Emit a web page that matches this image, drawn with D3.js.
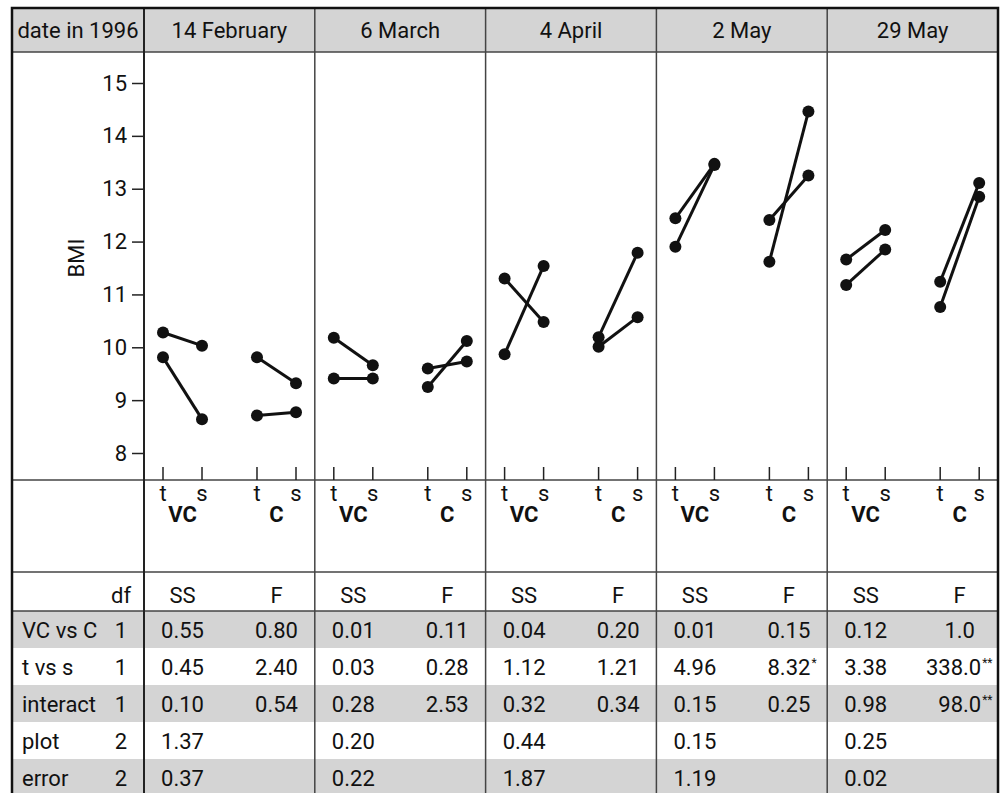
<!DOCTYPE html>
<html>
<head>
<meta charset="utf-8">
<script src="https://cdn.jsdelivr.net/npm/d3@7"></script>
<style>
  body { margin: 0; background: #fff; }
  svg text { font-family: Roboto, "Liberation Sans", sans-serif; fill: #111; }
</style>
</head>
<body>
<svg></svg>
<script>
var dates = ["14 February", "6 March", "4 April", "2 May", "29 May"];
var groups = ["VC", "C"];
var times = ["t", "s"];

// BMI pairs per date: [group, t value, s value]
var bmi = [
  [["VC", 10.28, 10.03], ["VC", 9.81, 8.64], ["C", 9.81, 9.32], ["C", 8.71, 8.77]],
  [["VC", 10.18, 9.66], ["VC", 9.41, 9.41], ["C", 9.25, 10.12], ["C", 9.60, 9.73]],
  [["VC", 11.30, 10.48], ["VC", 9.87, 11.54], ["C", 10.19, 11.79], ["C", 10.01, 10.57]],
  [["VC", 12.44, 13.47], ["VC", 11.90, 13.45], ["C", 12.41, 13.25], ["C", 11.62, 14.46]],
  [["VC", 11.66, 12.22], ["VC", 11.18, 11.85], ["C", 11.24, 13.11], ["C", 10.76, 12.85]]
];

var yTicks = [8, 9, 10, 11, 12, 13, 14, 15];

var sources = ["VC vs C", "t vs s", "interact", "plot", "error"];
var df = [1, 1, 1, 2, 2];
var ss = [
  ["0.55", "0.45", "0.10", "1.37", "0.37"],
  ["0.01", "0.03", "0.28", "0.20", "0.22"],
  ["0.04", "1.12", "0.32", "0.44", "1.87"],
  ["0.01", "4.96", "0.15", "0.15", "1.19"],
  ["0.12", "3.38", "0.98", "0.25", "0.02"]
];
var fval = [
  ["0.80", "2.40", "0.54", "", ""],
  ["0.11", "0.28", "2.53", "", ""],
  ["0.20", "1.21", "0.34", "", ""],
  ["0.15", "8.32*", "0.25", "", ""],
  ["1.0", "338.0**", "98.0**", "", ""]
];

var svg = d3.select('svg')
   .attr('width', 1005)
   .attr('height', 793);

var boxL = 12, boxR = 998, boxT = 8, boxB = 793;
var firstCol = 144;
var headH = 44;
var plotBottom = 480;
var catBottom = 572;
var tableHead = 611;
var rowH = 37;
var fs = 22;

var panel = d3.scaleBand()
   .domain(dates)
   .range([firstCol, boxR]);

var xGroup = d3.scaleBand()
   .domain(groups)
   .range([19, 152])
   .paddingInner(0.585);

var xTime = d3.scalePoint()
   .domain(times)
   .range([0, xGroup.bandwidth()]);

var y = d3.scaleLinear()
   .domain([8, 15])
   .range([453, 83]);

// grey bands
svg.append('rect')
   .attr('x', boxL).attr('y', boxT)
   .attr('width', boxR - boxL).attr('height', headH)
   .attr('fill', '#d4d4d4');

svg.append('g')
   .selectAll('rect')
   .data(sources)
   .enter()
   .append('rect')
   .attr('x', boxL)
   .attr('y', (d, i) => tableHead + i * rowH)
   .attr('width', boxR - boxL)
   .attr('height', rowH)
   .attr('fill', (d, i) => i % 2 == 0 ? '#d4d4d4' : '#fff');

// grid lines
var lines = svg.append('g')
   .attr('stroke', '#444')
   .attr('stroke-width', 1.5);

[boxT + headH, plotBottom, catBottom, tableHead].forEach((yy) => {
   lines.append('line')
      .attr('x1', boxL).attr('x2', boxR)
      .attr('y1', yy).attr('y2', yy);
});

dates.slice(1).forEach((d) => {
   lines.append('line')
      .attr('x1', panel(d)).attr('x2', panel(d))
      .attr('y1', boxT).attr('y2', boxB);
});

lines.append('line')
   .attr('x1', firstCol).attr('x2', firstCol)
   .attr('y1', boxT).attr('y2', boxB)
   .attr('stroke', '#222')
   .attr('stroke-width', 2);

svg.append('path')
   .attr('d', 'M' + boxL + ',' + boxB + 'V' + boxT + 'H' + boxR + 'V' + boxB)
   .attr('fill', 'none')
   .attr('stroke', '#111')
   .attr('stroke-width', 2.5);

// header texts
svg.append('text')
   .attr('x', (boxL + firstCol) / 2)
   .attr('y', boxT + 30)
   .attr('text-anchor', 'middle')
   .attr('font-size', fs)
   .text('date in 1996');

svg.append('g')
   .selectAll('text')
   .data(dates)
   .enter()
   .append('text')
   .attr('x', (d) => panel(d) + panel.bandwidth() / 2)
   .attr('y', boxT + 30)
   .attr('text-anchor', 'middle')
   .attr('font-size', fs)
   .text((d) => d);

// y axis
var yAxis = svg.append('g')
   .attr('transform', 'translate(' + firstCol + ',0)')
   .call(d3.axisLeft(y)
      .tickValues(yTicks)
      .tickFormat(d3.format('d'))
      .tickSize(12)
      .tickPadding(5));

yAxis.select('.domain').remove();
yAxis.selectAll('line').attr('stroke', '#222').attr('stroke-width', 1.5);
yAxis.selectAll('text')
   .attr('font-size', fs)
   .attr('font-family', 'Roboto, sans-serif')
   .attr('fill', '#111');

svg.append('text')
   .attr('transform', 'translate(84,258) rotate(-90)')
   .attr('text-anchor', 'middle')
   .attr('font-size', fs)
   .text('BMI');

// panels
dates.forEach((d, i) => {
   var g = svg.append('g')
      .attr('transform', 'translate(' + panel(d) + ',0)');

   groups.forEach((grp) => {
      times.forEach((tm) => {
         var xx = xGroup(grp) + xTime(tm);
         g.append('line')
            .attr('x1', xx).attr('x2', xx)
            .attr('y1', plotBottom - 13).attr('y2', plotBottom)
            .attr('stroke', '#222')
            .attr('stroke-width', 1.5);
         g.append('text')
            .attr('x', xx)
            .attr('y', plotBottom + 21)
            .attr('text-anchor', 'middle')
            .attr('font-size', fs)
            .text(tm);
      });
      g.append('text')
         .attr('x', xGroup(grp) + xGroup.bandwidth() / 2)
         .attr('y', plotBottom + 42)
         .attr('text-anchor', 'middle')
         .attr('font-size', fs)
         .attr('font-weight', 'bold')
         .text(grp);
   });

   g.selectAll('line.pair')
      .data(bmi[i])
      .enter()
      .append('line')
      .attr('class', 'pair')
      .attr('x1', (p) => xGroup(p[0]) + xTime('t'))
      .attr('x2', (p) => xGroup(p[0]) + xTime('s'))
      .attr('y1', (p) => y(p[1]))
      .attr('y2', (p) => y(p[2]))
      .attr('stroke', '#111')
      .attr('stroke-width', 3);

   bmi[i].forEach((p) => {
      [['t', p[1]], ['s', p[2]]].forEach((pt) => {
         g.append('circle')
            .attr('cx', xGroup(p[0]) + xTime(pt[0]))
            .attr('cy', y(pt[1]))
            .attr('r', 6)
            .attr('fill', '#111');
      });
   });

   // table header
   g.append('text')
      .attr('x', xGroup('VC') + xGroup.bandwidth() / 2)
      .attr('y', tableHead - 8)
      .attr('text-anchor', 'middle')
      .attr('font-size', fs)
      .text('SS');
   g.append('text')
      .attr('x', xGroup('C') + xGroup.bandwidth() / 2)
      .attr('y', tableHead - 8)
      .attr('text-anchor', 'middle')
      .attr('font-size', fs)
      .text('F');

   g.selectAll('text.ss')
      .data(ss[i])
      .enter()
      .append('text')
      .attr('class', 'ss')
      .attr('x', xGroup('VC') + xGroup.bandwidth() / 2)
      .attr('y', (v, j) => tableHead + j * rowH + 27)
      .attr('text-anchor', 'middle')
      .attr('font-size', fs)
      .text((v) => v);

   fval[i].forEach((v, j) => {
      if (v === '') return;
      var num = v.replace(/\*/g, '');
      var stars = v.slice(num.length);
      var yy = tableHead + j * rowH + 27;
      if (stars) {
         g.append('text')
            .attr('x', 154)
            .attr('y', yy)
            .attr('text-anchor', 'end')
            .attr('font-size', fs)
            .text(num);
         g.append('text')
            .attr('x', 155)
            .attr('y', yy - 8)
            .attr('font-size', 12)
            .text(stars);
      } else {
         g.append('text')
            .attr('x', xGroup('C') + xGroup.bandwidth() / 2)
            .attr('y', yy)
            .attr('text-anchor', 'middle')
            .attr('font-size', fs)
            .text(num);
      }
   });
});

// row labels
svg.append('text')
   .attr('x', 121)
   .attr('y', tableHead - 8)
   .attr('text-anchor', 'middle')
   .attr('font-size', fs)
   .text('df');

svg.append('g')
   .selectAll('text')
   .data(sources)
   .enter()
   .append('text')
   .attr('x', 22)
   .attr('y', (d, i) => tableHead + i * rowH + 27)
   .attr('font-size', fs)
   .text((d) => d);

svg.append('g')
   .selectAll('text')
   .data(df)
   .enter()
   .append('text')
   .attr('x', 121)
   .attr('y', (d, i) => tableHead + i * rowH + 27)
   .attr('text-anchor', 'middle')
   .attr('font-size', fs)
   .text((d) => d);
</script>
</body>
</html>
